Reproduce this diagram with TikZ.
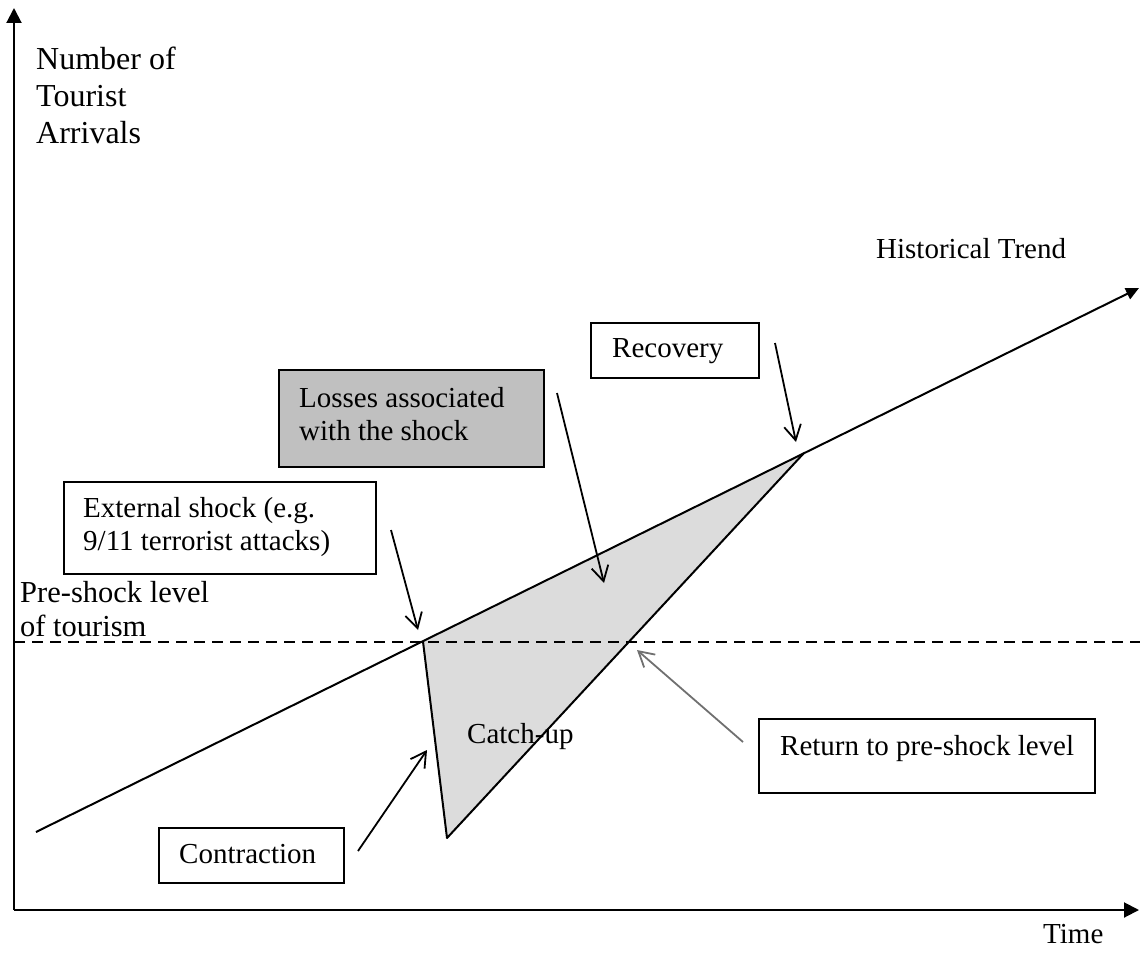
\documentclass[tikz,border=0pt]{standalone}
\usepackage{fontspec}
\setmainfont{Liberation Serif}
\usetikzlibrary{arrows.meta,calc}
\definecolor{lossfill}{HTML}{C0C0C0}
\definecolor{gapfill}{HTML}{DCDCDC}
\definecolor{notegray}{HTML}{707070}
\newcommand{\lines}[1]{\begin{tabular}[t]{@{}l@{}}#1\end{tabular}}
\begin{document}
\begin{tikzpicture}[x=1pt,y=-1pt,
  font=\fontsize{29}{33}\selectfont,
  axis/.style={line width=2pt,-{Triangle[length=15pt,width=15pt]}},
  trend/.style={line width=2pt,-{Triangle[length=13pt,width=12pt]}},
  curve/.style={line width=2pt,line join=round},
  level/.style={line width=2pt,dash pattern=on 11pt off 7pt},
  note/.style={line width=1.8pt,-{Straight Barb[length=15pt,width=17pt,line width=1.8pt]}},
  tbox/.style={draw,line width=2pt,anchor=north west,inner sep=0pt},
  lbl/.style={anchor=base west,inner sep=0pt}
]
\useasboundingbox (0,0) rectangle (1140,955);

% key points of the arrivals path
\coordinate (O) at (14,910);
\coordinate (ytop) at (14,8);
\coordinate (xend) at (1139,910);
\coordinate (trendstart) at (36,832);
\coordinate (trendend) at (1139,288);
\coordinate (shock) at (423,641.5);
\coordinate (trough) at (447,838);
\coordinate (recpt) at (804,453);
\coordinate (dashL) at (14,642);
\coordinate (dashR) at (1140,642);

% shaded losses region
\fill[gapfill] (shock) -- (trough) -- (recpt) -- cycle;

% pre-shock level
\draw[level] (dashL) -- (dashR);

% trend and shock path
\draw[trend] (trendstart) -- (trendend);
\draw[curve] (shock) -- (trough) -- (recpt);

% axes
\draw[axis] (O) -- (ytop);
\draw[axis] (O) -- (xend);

% boxes
\node[tbox,minimum width=168pt,minimum height=55pt] (recbox) at (590,322) {};
\node[tbox,fill=lossfill,minimum width=265pt,minimum height=97pt] (lossbox) at (278,369) {};
\node[tbox,minimum width=312pt,minimum height=92pt] (extbox) at (63,481) {};
\node[tbox,minimum width=336pt,minimum height=74pt] (retbox) at (758,718) {};
\node[tbox,minimum width=185pt,minimum height=55pt] (conbox) at (158,827) {};

% box texts
\node[lbl] (rectext) at (612,357) {Recovery};
\node[lbl] (losstext) at (299,407) {\lines{Losses associated\\with the shock}};
\node[lbl] (exttext) at (83,517) {\lines{External shock (e.g.\\9/11 terrorist attacks)}};
\node[lbl] (rettext) at (780,755) {Return to pre-shock level};
\node[lbl] (context) at (179,863) {Contraction};

% free labels
\node[lbl] (ylab) at (36,70) {\fontsize{32}{37}\selectfont\lines{Number of\\Tourist\\Arrivals}};
\node[lbl] (trendlab) at (876,258) {Historical Trend};
\node[lbl] (prelab) at (20,602) {\fontsize{30.5}{34}\selectfont\lines{Pre-shock level\\of tourism}};
\node[lbl] (catchlab) at (467,743) {Catch-up};
\node[lbl] (xlab) at (1043,943) {Time};

% pointer arrows
\coordinate (extFrom) at (391,530);
\coordinate (extTo) at (418,630);
\coordinate (lossFrom) at (557,393);
\coordinate (lossTo) at (604,583);
\coordinate (recFrom) at (775,343);
\coordinate (recTo) at (796,442);
\coordinate (conFrom) at (358,851);
\coordinate (conTo) at (427,750);
\coordinate (retFrom) at (743,742);
\coordinate (retTo) at (637,650);

\draw[note] (extFrom) -- (extTo);
\draw[note] (lossFrom) -- (lossTo);
\draw[note] (recFrom) -- (recTo);
\draw[note] (conFrom) -- (conTo);
\draw[note,notegray] (retFrom) -- (retTo);
\end{tikzpicture}
\end{document}
